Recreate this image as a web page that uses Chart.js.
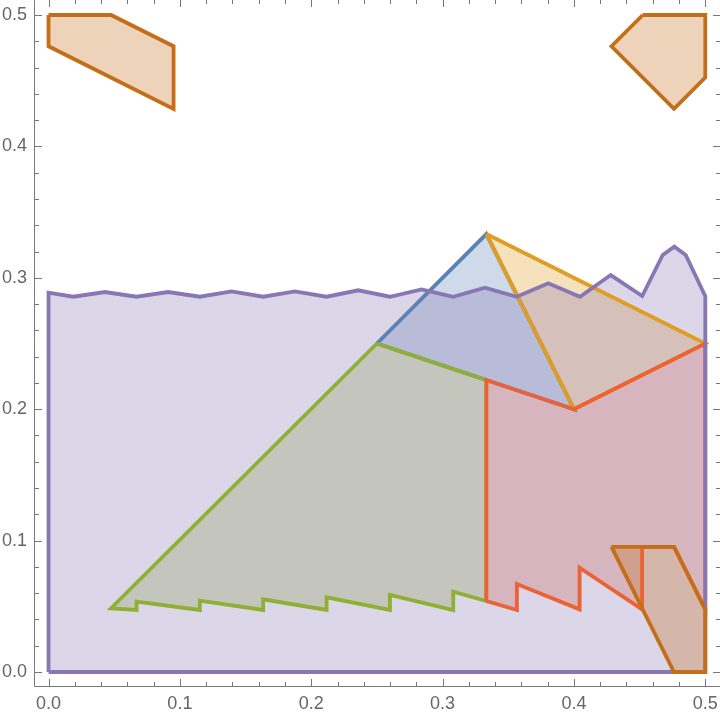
<!DOCTYPE html>
<html>
<head>
<meta charset="utf-8">
<script src="https://cdn.jsdelivr.net/npm/chart.js@4/dist/chart.umd.min.js"></script>
<style>
  html, body { margin: 0; padding: 0; background: #fff; }
</style>
</head>
<body>
<canvas id="plot" width="720" height="715"></canvas>
<script>
// tick values and labels (same on both axes)
const tickValues = [0, 0.1, 0.2, 0.3, 0.4, 0.5];
const tickLabels = ['0.0', '0.1', '0.2', '0.3', '0.4', '0.5'];

// polygon outlines
const blueX = [0.25, 0.3333, 0.4, 0.25];
const blueY = [0.25, 0.3333, 0.2, 0.25];

const orangeX = [0.3333, 0.5, 0.4, 0.3333];
const orangeY = [0.3333, 0.25, 0.2, 0.3333];

const greenX = [0.25, 0.3333, 0.3333, 0.3081, 0.3081, 0.2599, 0.2599, 0.2117, 0.2117, 0.1634, 0.1634, 0.1152, 0.1152, 0.067, 0.067, 0.0476, 0.25];
const greenY = [0.25, 0.2222, 0.054, 0.0611, 0.0472, 0.0586, 0.0472, 0.0568, 0.0472, 0.0553, 0.0472, 0.0543, 0.0472, 0.0535, 0.0472, 0.0485, 0.25];

const redX = [0.3333, 0.3566, 0.3566, 0.4043, 0.4043, 0.4519, 0.4519, 0.4762, 0.5, 0.5, 0.4, 0.3333, 0.3333];
const redY = [0.054, 0.0472, 0.067, 0.0477, 0.0794, 0.0477, 0.0952, 0.0952, 0.0476, 0.25, 0.2, 0.2222, 0.054];

const purpleX = [0, 0, 0.0188, 0.0429, 0.067, 0.0911, 0.1152, 0.1393, 0.1634, 0.1876, 0.2117, 0.2358, 0.2599, 0.284, 0.3081, 0.3322, 0.3564, 0.3805, 0.4046, 0.428, 0.452, 0.4676, 0.4764, 0.4851, 0.5, 0.5, 0];
const purpleY = [0, 0.2887, 0.2856, 0.2892, 0.2856, 0.2892, 0.2856, 0.2897, 0.2856, 0.2897, 0.2856, 0.2905, 0.2856, 0.2912, 0.2856, 0.2925, 0.2856, 0.2958, 0.2856, 0.3021, 0.2861, 0.3174, 0.3237, 0.3174, 0.2861, 0, 0];

const topLeftX = [0, 0.0476, 0.0952, 0.0952, 0, 0];
const topLeftY = [0.5, 0.5, 0.4762, 0.4286, 0.4762, 0.5];

const topRightX = [0.4524, 0.5, 0.5, 0.4762, 0.4286, 0.4524];
const topRightY = [0.5, 0.5, 0.4524, 0.4286, 0.4762, 0.5];

const bottomRightX = [0.4286, 0.4762, 0.5, 0.5, 0.4762, 0.4286];
const bottomRightY = [0.0952, 0.0952, 0.0476, 0, 0, 0.0952];

const colors = {
    blue: '94,129,181',
    orange: '225,156,36',
    green: '143,176,50',
    red: '235,98,53',
    purple: '135,120,179',
    darkOrange: '197,110,26'
};

function toPoints(xs, ys) {
    return xs.map((x, i) => ({ x: x, y: ys[i] }));
}

// listed bottom to top
const layers = [
    [blueX, blueY, colors.blue],
    [orangeX, orangeY, colors.orange],
    [greenX, greenY, colors.green],
    [redX, redY, colors.red],
    [purpleX, purpleY, colors.purple],
    [topLeftX, topLeftY, colors.darkOrange],
    [topRightX, topRightY, colors.darkOrange],
    [bottomRightX, bottomRightY, colors.darkOrange]
];

const datasets = layers.map((l, i) => ({
    data: toPoints(l[0], l[1]),
    showLine: true,
    fill: 'shape',
    borderColor: 'rgb(' + l[2] + ')',
    backgroundColor: 'rgba(' + l[2] + ',0.3)',
    borderWidth: 3.8,
    borderJoinStyle: 'miter',
    pointRadius: 0,
    pointHoverRadius: 0,
    tension: 0,
    order: layers.length - i
}));

// frame on left/bottom and inward ticks on all four sides
const frameTicks = {
    id: 'frameTicks',
    afterDraw(chart) {
        const { ctx, chartArea: a, scales: { x, y } } = chart;
        ctx.save();
        ctx.strokeStyle = '#777';
        ctx.lineWidth = 1;
        ctx.beginPath();
        ctx.moveTo(a.left - 0.5, a.top);
        ctx.lineTo(a.left - 0.5, a.bottom + 0.5);
        ctx.lineTo(a.right, a.bottom + 0.5);
        for (let i = 0; i <= 25; i++) {
            const v = i * 0.02;
            const len = i % 5 === 0 ? 7 : 4;
            const px = Math.round(x.getPixelForValue(v)) + 0.5;
            ctx.moveTo(px, a.bottom);
            ctx.lineTo(px, a.bottom - len);
            ctx.moveTo(px, a.top);
            ctx.lineTo(px, a.top + len);
            const py = Math.round(y.getPixelForValue(v)) + 0.5;
            ctx.moveTo(a.left, py);
            ctx.lineTo(a.left + len, py);
            ctx.moveTo(a.right, py);
            ctx.lineTo(a.right - len, py);
        }
        ctx.stroke();
        ctx.restore();
    }
};

const tickFont = { family: '"Liberation Sans", Arial, sans-serif', size: 18 };

new Chart(document.getElementById('plot').getContext('2d'), {
    type: 'scatter',
    data: { datasets: datasets },
    options: {
        responsive: false,
        animation: false,
        events: [],
        layout: { padding: 0 },
        plugins: {
            legend: { display: false },
            title: { display: false },
            tooltip: { enabled: false },
            filler: { drawTime: 'beforeDatasetsDraw' } // all faces first, edges on top
        },
        scales: {
            x: {
                type: 'linear',
                min: -0.0103,
                max: 0.5112,
                grid: { display: false, drawTicks: false },
                border: { display: false },
                afterBuildTicks: s => { s.ticks = tickValues.map(v => ({ value: v })); },
                afterFit: s => { s.height = 29; s.paddingLeft = 0; s.paddingRight = 0; },
                ticks: {
                    padding: 7,
                    color: '#666',
                    font: tickFont,
                    maxRotation: 0,
                    callback: (v, i) => tickLabels[i]
                }
            },
            y: {
                type: 'linear',
                min: -0.01065,
                max: 0.51142,
                grid: { display: false, drawTicks: false },
                border: { display: false },
                afterBuildTicks: s => { s.ticks = tickValues.map(v => ({ value: v })); },
                afterFit: s => { s.width = 35; s.paddingTop = 0; s.paddingBottom = 0; },
                ticks: {
                    padding: 8,
                    color: '#666',
                    font: tickFont,
                    callback: (v, i) => tickLabels[i]
                }
            }
        }
    },
    plugins: [frameTicks]
});
</script>
</body>
</html>
